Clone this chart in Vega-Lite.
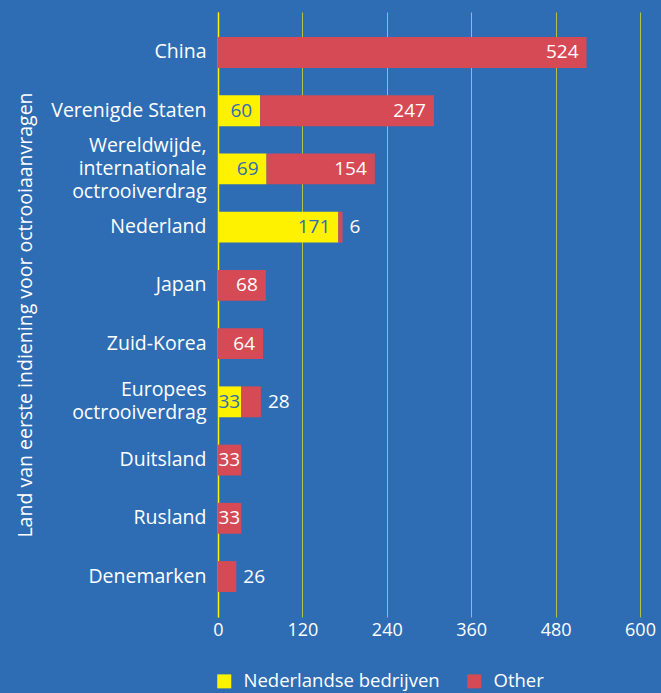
{
  "$schema": "https://vega.github.io/schema/vega-lite/v6.json",
  "width": 422,
  "height": 605,
  "autosize": {"type": "none"},
  "padding": {"left": 218, "top": 12, "right": 21, "bottom": 76},
  "background": "#2e6db4",
  "config": {"view": {"stroke": null}, "font": "Open Sans"},
  "data": {
    "values": [
      {"land": "China", "groep": "Other", "aantal": 524},
      {"land": "Verenigde Staten", "groep": "Nederlandse bedrijven", "aantal": 60},
      {"land": "Verenigde Staten", "groep": "Other", "aantal": 247},
      {"land": "Wereldwijde, internationale octrooiverdrag", "groep": "Nederlandse bedrijven", "aantal": 69},
      {"land": "Wereldwijde, internationale octrooiverdrag", "groep": "Other", "aantal": 154},
      {"land": "Nederland", "groep": "Nederlandse bedrijven", "aantal": 171},
      {"land": "Nederland", "groep": "Other", "aantal": 6},
      {"land": "Japan", "groep": "Other", "aantal": 68},
      {"land": "Zuid-Korea", "groep": "Other", "aantal": 64},
      {"land": "Europees octrooiverdrag", "groep": "Nederlandse bedrijven", "aantal": 33},
      {"land": "Europees octrooiverdrag", "groep": "Other", "aantal": 28},
      {"land": "Duitsland", "groep": "Other", "aantal": 33},
      {"land": "Rusland", "groep": "Other", "aantal": 33},
      {"land": "Denemarken", "groep": "Other", "aantal": 26}
    ]
  },
  "transform": [
    {"stack": "aantal", "groupby": ["land"], "sort": [{"field": "groep", "order": "ascending"}], "as": ["x0", "x1"]}
  ],
  "encoding": {
    "y": {
      "field": "land",
      "type": "nominal",
      "sort": null,
      "scale": {"paddingInner": 0.47, "paddingOuter": 0.43},
      "axis": {
        "title": "Land van eerste indiening voor octrooiaanvragen",
        "titleColor": "white",
        "titleFontSize": 19.5,
        "titleFontWeight": "normal",
        "titleAngle": -90,
        "titleBaseline": "middle",
        "titleX": -193,
        "titleY": 302.5,
        "labelColor": "white",
        "labelFontSize": 19.5,
        "labelPadding": 12,
        "labelLineHeight": 23,
        "labelOffset": {
          "condition": [
            {"test": "datum.label == 'Wereldwijde, internationale octrooiverdrag'", "value": -23},
            {"test": "datum.label == 'Europees octrooiverdrag'", "value": -12}
          ],
          "value": 0
        },
        "ticks": false,
        "domainColor": "#fff200",
        "domainWidth": 1.5,
        "labelExpr": "datum.label == 'Wereldwijde, internationale octrooiverdrag' ? ['Wereldwijde,', 'internationale', 'octrooiverdrag'] : datum.label == 'Europees octrooiverdrag' ? ['Europees', 'octrooiverdrag'] : datum.label"
      }
    }
  },
  "layer": [
    {
      "mark": {"type": "bar"},
      "encoding": {
        "x": {
          "field": "x0",
          "type": "quantitative",
          "scale": {"domain": [0, 600]},
          "axis": {
            "title": null,
            "domain": false,
            "ticks": false,
            "grid": true,
            "gridColor": "#fff200",
            "gridWidth": 0.8,
            "gridOpacity": 0.8,
            "values": [0, 120, 240, 360, 480, 600],
            "labelColor": "white",
            "labelFontSize": 18,
            "labelPadding": 4,
            "labelFlush": false
          }
        },
        "x2": {"field": "x1"},
        "color": {
          "field": "groep",
          "type": "nominal",
          "scale": {"domain": ["Nederlandse bedrijven", "Other"], "range": ["#fff200", "#d64a55"]},
          "legend": {
            "orient": "none",
            "legendX": -3,
            "legendY": 660,
            "direction": "horizontal",
            "title": null,
            "symbolType": "square",
            "symbolSize": 196,
            "symbolStrokeWidth": 0,
            "symbolOpacity": 1,
            "labelColor": "white",
            "labelFontSize": 18.5,
            "labelLimit": 400,
            "labelOffset": 10,
            "columnPadding": 25
          }
        }
      }
    },
    {
      "transform": [{"filter": "datum.aantal >= 40"}],
      "mark": {"type": "text", "align": "right", "baseline": "middle", "dx": -8, "fontSize": 19},
      "encoding": {
        "x": {"field": "x1", "type": "quantitative"},
        "text": {"field": "aantal", "type": "quantitative"},
        "color": {"condition": {"test": "datum.groep == 'Nederlandse bedrijven'", "value": "#2e6db4"}, "value": "white"}
      }
    },
    {
      "transform": [{"filter": "datum.aantal >= 30 && datum.aantal < 40"}],
      "mark": {"type": "text", "align": "right", "baseline": "middle", "dx": -1, "fontSize": 19},
      "encoding": {
        "x": {"field": "x1", "type": "quantitative"},
        "text": {"field": "aantal", "type": "quantitative"},
        "color": {"condition": {"test": "datum.groep == 'Nederlandse bedrijven'", "value": "#2e6db4"}, "value": "white"}
      }
    },
    {
      "transform": [{"filter": "datum.aantal < 30"}],
      "mark": {"type": "text", "align": "left", "baseline": "middle", "dx": 7, "fontSize": 19, "color": "white"},
      "encoding": {
        "x": {"field": "x1", "type": "quantitative"},
        "text": {"field": "aantal", "type": "quantitative"}
      }
    }
  ]
}
